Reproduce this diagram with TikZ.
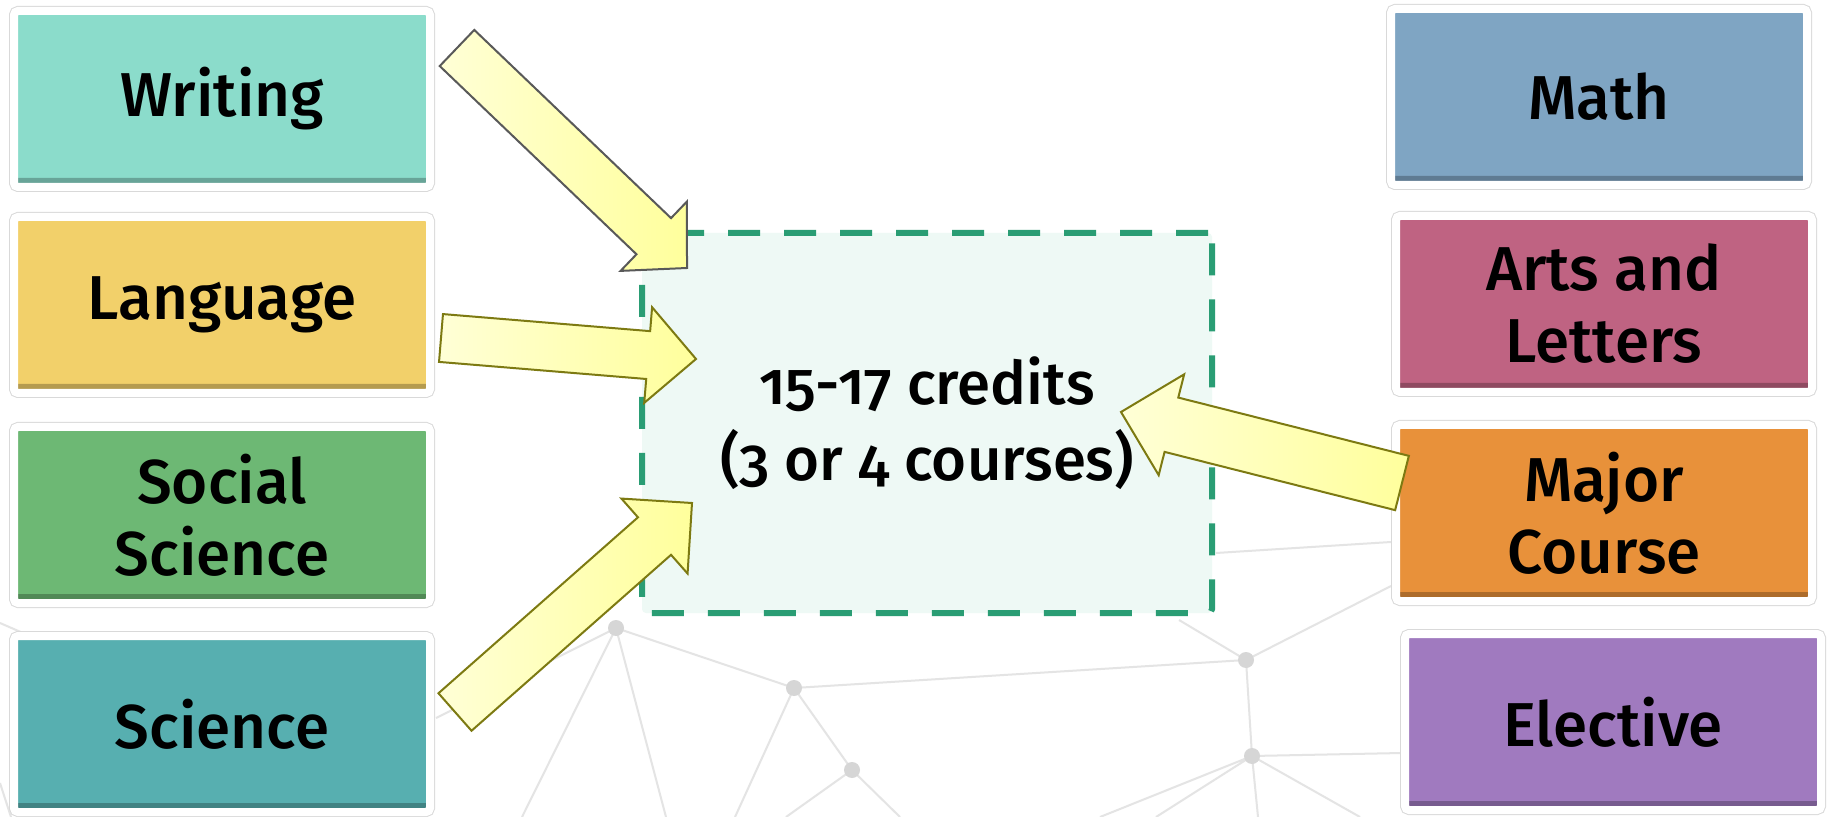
\documentclass[tikz,border=0pt]{standalone}
\usepackage{fontspec}
\setmainfont{Fira Sans}[Numbers=OldStyle, UprightFont={* Medium}]
\usetikzlibrary{calc}

\definecolor{writingc}{HTML}{8BDCCB}
\definecolor{languagec}{HTML}{F2D06A}
\definecolor{socialc}{HTML}{6DB874}
\definecolor{sciencec}{HTML}{57AFB0}
\definecolor{mathc}{HTML}{7FA5C3}
\definecolor{artsc}{HTML}{BF6382}
\definecolor{majorc}{HTML}{E8913A}
\definecolor{electivec}{HTML}{A07ABF}
\definecolor{creditfill}{HTML}{EEF9F5}
\definecolor{creditline}{HTML}{2A9D74}
\definecolor{arrowlight}{HTML}{FFFFD6}
\definecolor{arrowdark}{HTML}{FFFF9C}
\definecolor{arrowline}{HTML}{7D7A12}
\definecolor{netgrey}{HTML}{E4E4E4}
\definecolor{netdotgrey}{HTML}{D6D6D6}

\tikzset{
  areabox/.style={rectangle, fill=#1, draw=white, line width=4pt,
    rounded corners=2pt, minimum width=208pt, minimum height=88pt,
    inner sep=0pt, align=center, font=\fontsize{31pt}{36pt}\selectfont,
    preaction={draw=black!15, line width=5pt},
    path picture={\fill[black, opacity=0.25]
      (path picture bounding box.south west) rectangle
      ([yshift=4.5pt]path picture bounding box.south east);}},
  creditbox/.style={rectangle, fill=creditfill, draw=creditline, line width=3pt,
    dash pattern=on 16pt off 12pt, rounded corners=2pt,
    minimum width=285pt, minimum height=190pt, align=center,
    font=\fontsize{30pt}{38pt}\selectfont},
  blockarrow/.style={draw=arrowline, line width=1pt, line join=miter,
    left color=arrowlight, right color=arrowdark},
  netline/.style={draw=netgrey, line width=1pt},
  netdot/.style={fill=netdotgrey}
}

% fat arrow: tail, tip, half shaft, half head, head length
\newcommand\bigarrow[6][]{%
  \path #2 coordinate (ba-tail) #3 coordinate (ba-tip);
  \path ($(ba-tip)!#6!(ba-tail)$) coordinate (ba-base);
  \draw[blockarrow,#1]
    ($(ba-tail)!#4!90:(ba-tip)$) -- ($(ba-base)!#4!90:(ba-tip)$)
    -- ($(ba-base)!#5!90:(ba-tip)$) -- (ba-tip)
    -- ($(ba-base)!#5!-90:(ba-tip)$) -- ($(ba-base)!#4!-90:(ba-tip)$)
    -- ($(ba-tail)!#4!-90:(ba-tip)$) -- cycle;}

\begin{document}
\begin{tikzpicture}[x=0.5pt, y=-0.5pt]
  \useasboundingbox[fill=white] (0,0) rectangle (1829,817);

  % faint network behind
  \draw[netline] (436,718) -- (616,628) -- (794,688) -- (1246,660) -- (1391,586);
  \draw[netline] (522,817) -- (616,628) -- (666,817);
  \draw[netline] (735,817) -- (794,688) -- (852,770) -- (900,817);
  \draw[netline] (786,817) -- (852,770);
  \draw[netline] (1179,620) -- (1246,660) -- (1252,756) -- (1402,753);
  \draw[netline] (1100,817) -- (1252,756) -- (1156,817);
  \draw[netline] (1258,817) -- (1252,756) -- (1360,817);
  \draw[netline] (1216,553) -- (1391,542);
  \draw[netline] (0,623) -- (23,633);
  \draw[netline] (0,783) -- (11,817);
  \fill[netdot] (616,628) circle (4pt);
  \fill[netdot] (794,688) circle (4pt);
  \fill[netdot] (852,770) circle (4pt);
  \fill[netdot] (1246,660) circle (4pt);
  \fill[netdot] (1252,756) circle (4pt);

  % left column
  \node[areabox=writingc] (writing) at (222,99) {Writing};
  \node[areabox=languagec] (language) at (222,305) {Language};
  \node[areabox=socialc] (social) at (222,515) {Social\\Science};
  \node[areabox=sciencec] (science) at (222,724) {Science};

  % right column
  \node[areabox=mathc] (math) at (1599,97) {Math};
  \node[areabox=artsc] (arts) at (1604,304) {Arts and\\Letters};
  \node[areabox=majorc] (major) at (1604,513) {Major\\Course};
  \node[areabox=electivec] (elective) at (1613,722) {Elective};

  \node[creditbox] (credits) at (927,423) {15-17 credits\\(3 or 4 courses)};

  \bigarrow[draw=black!65]{($(writing.east)+(23,-51)$)}{($(credits.north west)+(48,38)$)}{12.5pt}{24pt}{23pt}
  \bigarrow{($(language.east)+(7,33)$)}{($(credits.west)+(57,-64)$)}{12pt}{24pt}{24pt}
  \bigarrow{($(science.east)+(21,-12)$)}{($(credits.west)+(53,80)$)}{12.5pt}{25pt}{25pt}
  \bigarrow{($(major.west)+(10,-30)$)}{($(credits.east)+(-94,-11)$)}{14pt}{26pt}{26pt}
\end{tikzpicture}
\end{document}
